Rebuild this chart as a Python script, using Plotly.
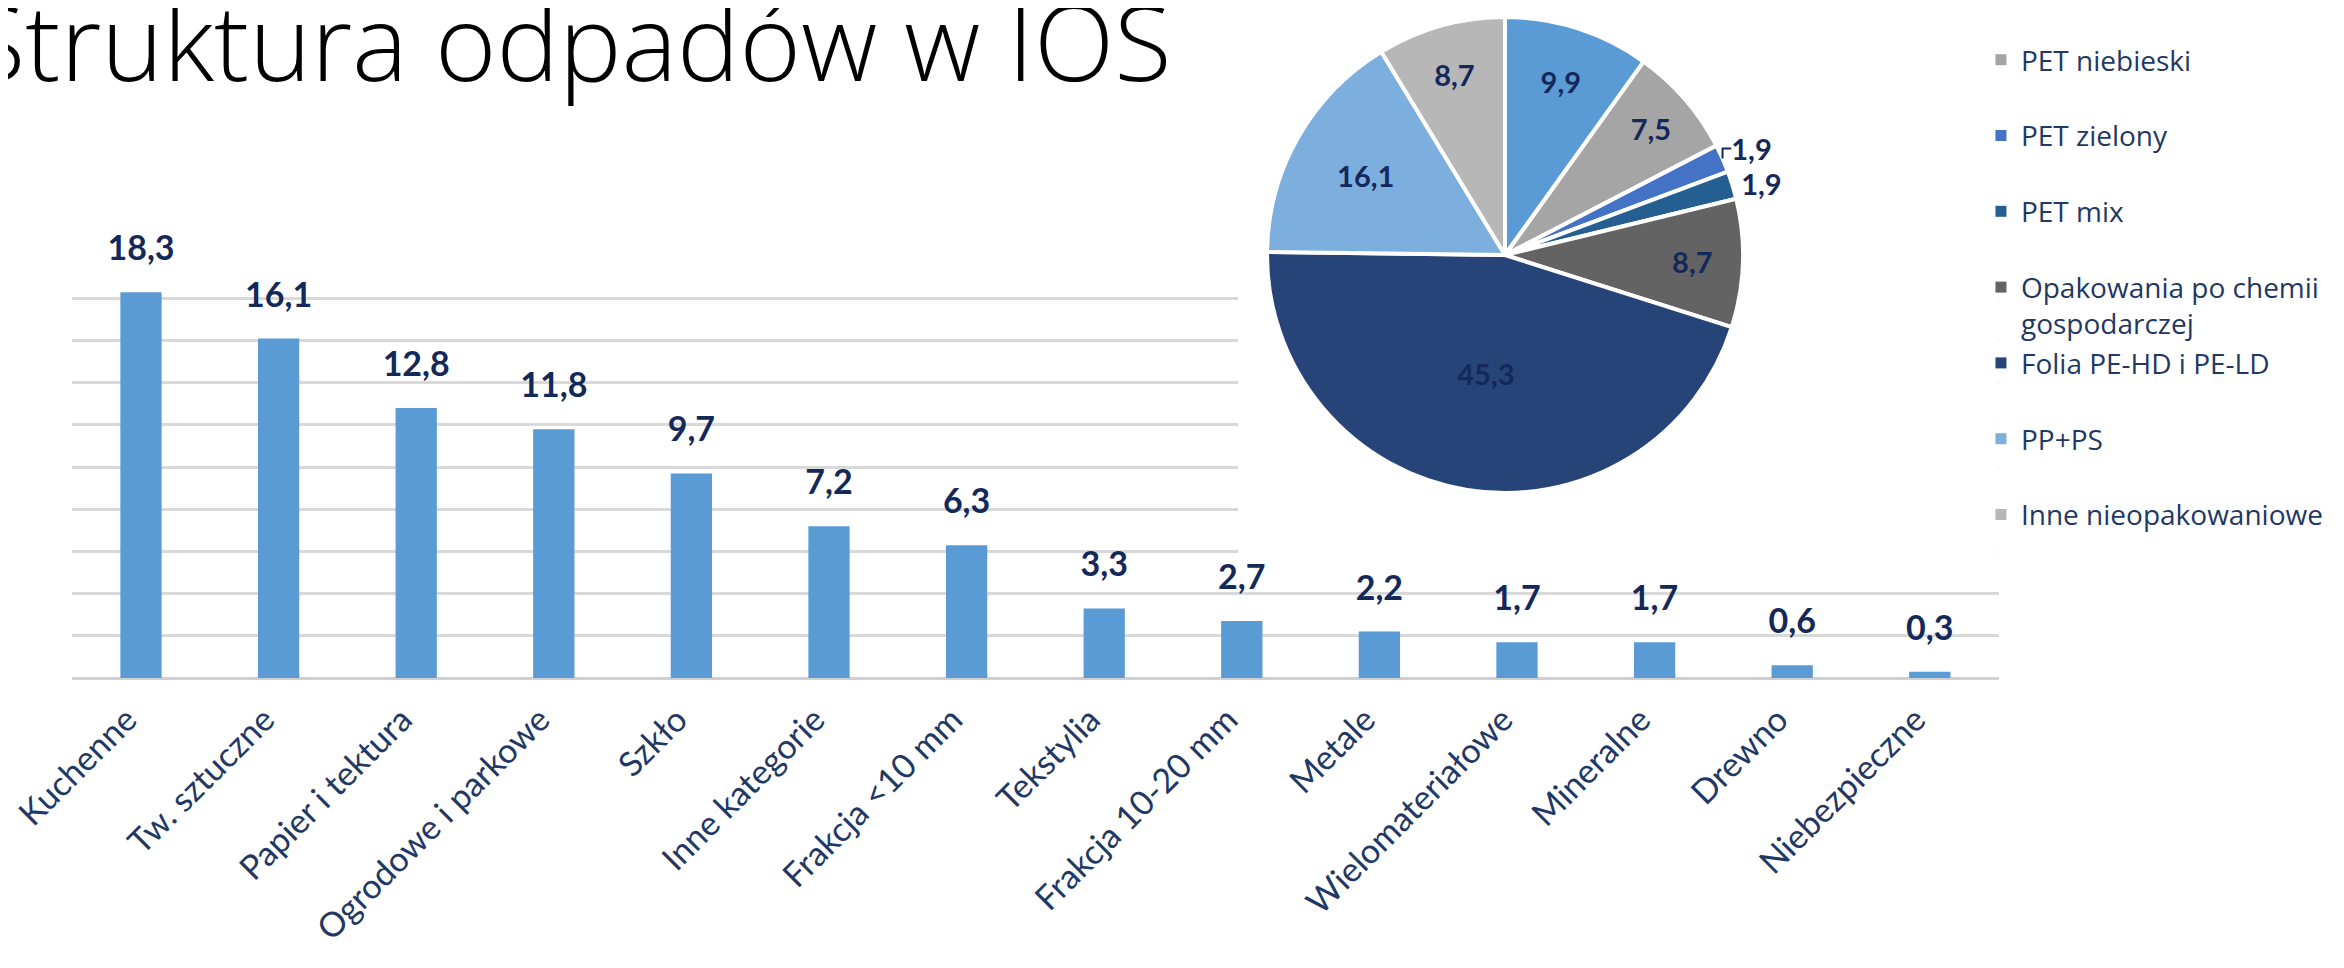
import plotly.graph_objects as go

# ---------------- data ----------------
categories = ["Kuchenne", "Tw. sztuczne", "Papier i tektura", "Ogrodowe i parkowe",
              "Szkło", "Inne kategorie", "Frakcja <10 mm", "Tekstylia",
              "Frakcja 10-20 mm", "Metale", "Wielomateriałowe", "Mineralne",
              "Drewno", "Niebezpieczne"]
values = [18.3, 16.1, 12.8, 11.8, 9.7, 7.2, 6.3, 3.3, 2.7, 2.2, 1.7, 1.7, 0.6, 0.3]

# first slice: its legend entry is cut off above the top edge in the original
pie_labels = ["PET (1)", "PET niebieski", "PET zielony", "PET mix",
              "Opakowania po chemii<br>gospodarczej", "Folia PE-HD i PE-LD",
              "PP+PS", "Inne nieopakowaniowe"]
pie_values = [9.9, 7.5, 1.9, 1.9, 8.7, 45.3, 16.1, 8.7]
pie_colors = ["#5b9bd5", "#a5a5a5", "#4472c4", "#255e91",
              "#636363", "#264478", "#7cafdd", "#b7b7b7"]
pie_textpos = ["inside", "inside", "outside", "outside",
               "inside", "inside", "inside", "inside"]
legend_visible_from = 1   # entries above the page edge are not visible

title_text = "Struktura odpadów w IOS"

NAVY = "#1f3864"
DARK = "#14285a"
W, H = 2344, 968

tick_text = [c.replace("<", "&lt;") for c in categories]

fig = go.Figure()

fig.add_trace(go.Bar(
    x=categories, y=values, width=0.30,
    marker=dict(color="#5b9bd5", line=dict(width=0)),
    showlegend=False, hoverinfo="skip"))

fig.add_trace(go.Scatter(
    x=categories, y=values, mode="markers+text",
    marker=dict(size=36, color="rgba(0,0,0,0)"),
    texttemplate="%{y:.1f}", textposition="top center",
    textfont=dict(family="Lato, Noto Sans", size=34, color=DARK, weight="bold"),
    cliponaxis=False, showlegend=False, hoverinfo="skip"))

fig.add_trace(go.Pie(
    labels=pie_labels, values=pie_values, sort=False,
    direction="clockwise", rotation=0,
    marker=dict(colors=pie_colors, line=dict(color="white", width=4)),
    textposition=pie_textpos, texttemplate="%{value:.1f}",
    insidetextorientation="horizontal",
    textfont=dict(family="Lato, Noto Sans", size=29, color=DARK, weight="bold"),
    domain=dict(x=[0.53712, 0.74019], y=[0.27612, 0.98657]),
    hoverinfo="skip", showlegend=False))

# legend entries (each entry occupies two text lines, as in the original)
for lab, col in zip(pie_labels[legend_visible_from:], pie_colors[legend_visible_from:]):
    fig.add_trace(go.Scatter(
        x=[None], y=[None], mode="markers", name=lab if "<br>" in lab else lab + "<br> ",
        marker=dict(symbol="square", size=11, color=col),
        showlegend=True, hoverinfo="skip"))

fig.update_layout(
    width=W, height=H,
    margin=dict(l=0, r=0, t=0, b=298, autoexpand=False),
    paper_bgcolor="white", plot_bgcolor="white",
    separators=", ",
    xaxis=dict(domain=[0.02739, 0.84923], type="category", range=[-0.5, 13.5],
               tickvals=categories, ticktext=tick_text,
               tickangle=-45, ticks="", showgrid=False, showline=False,
               zeroline=False, ticklabelstandoff=14, ticklabelshift=-14,
               automargin=False,
               tickfont=dict(family="Lato, Noto Sans", size=34, color=NAVY)),
    yaxis=dict(domain=[0, 0.6294], range=[0, 20], dtick=2,
               showticklabels=False, ticks="",
               showgrid=True, gridcolor="#d9d9d9", gridwidth=3,
               zeroline=True, zerolinecolor="#d0d0d0", zerolinewidth=3,
               showline=False, automargin=False),
    legend=dict(xref="container", yref="container", x=0.8417, y=0.9721,
                xanchor="left", yanchor="top", valign="top",
                itemwidth=30, bgcolor="rgba(0,0,0,0)", borderwidth=0,
                traceorder="normal",
                font=dict(family="Open Sans, Noto Sans", size=28, color=NAVY)),
    shapes=[dict(type="rect", xref="x", yref="y",
                 x0=7.972, x1=13.6, y0=5, y1=21,
                 fillcolor="white", line=dict(width=0), layer="between")],
    annotations=[dict(text=title_text, xref="paper", yref="paper",
                      x=-42 / W, y=1, xanchor="left", yanchor="top", yshift=41,
                      showarrow=False,
                      font=dict(family="Open Sans, Noto Sans", size=105,
                                color="black", weight=300))],
)

try:
    fig.update_layout(legend_maxheight=1.0)
except Exception:
    pass

fig.write_html("out.html")
